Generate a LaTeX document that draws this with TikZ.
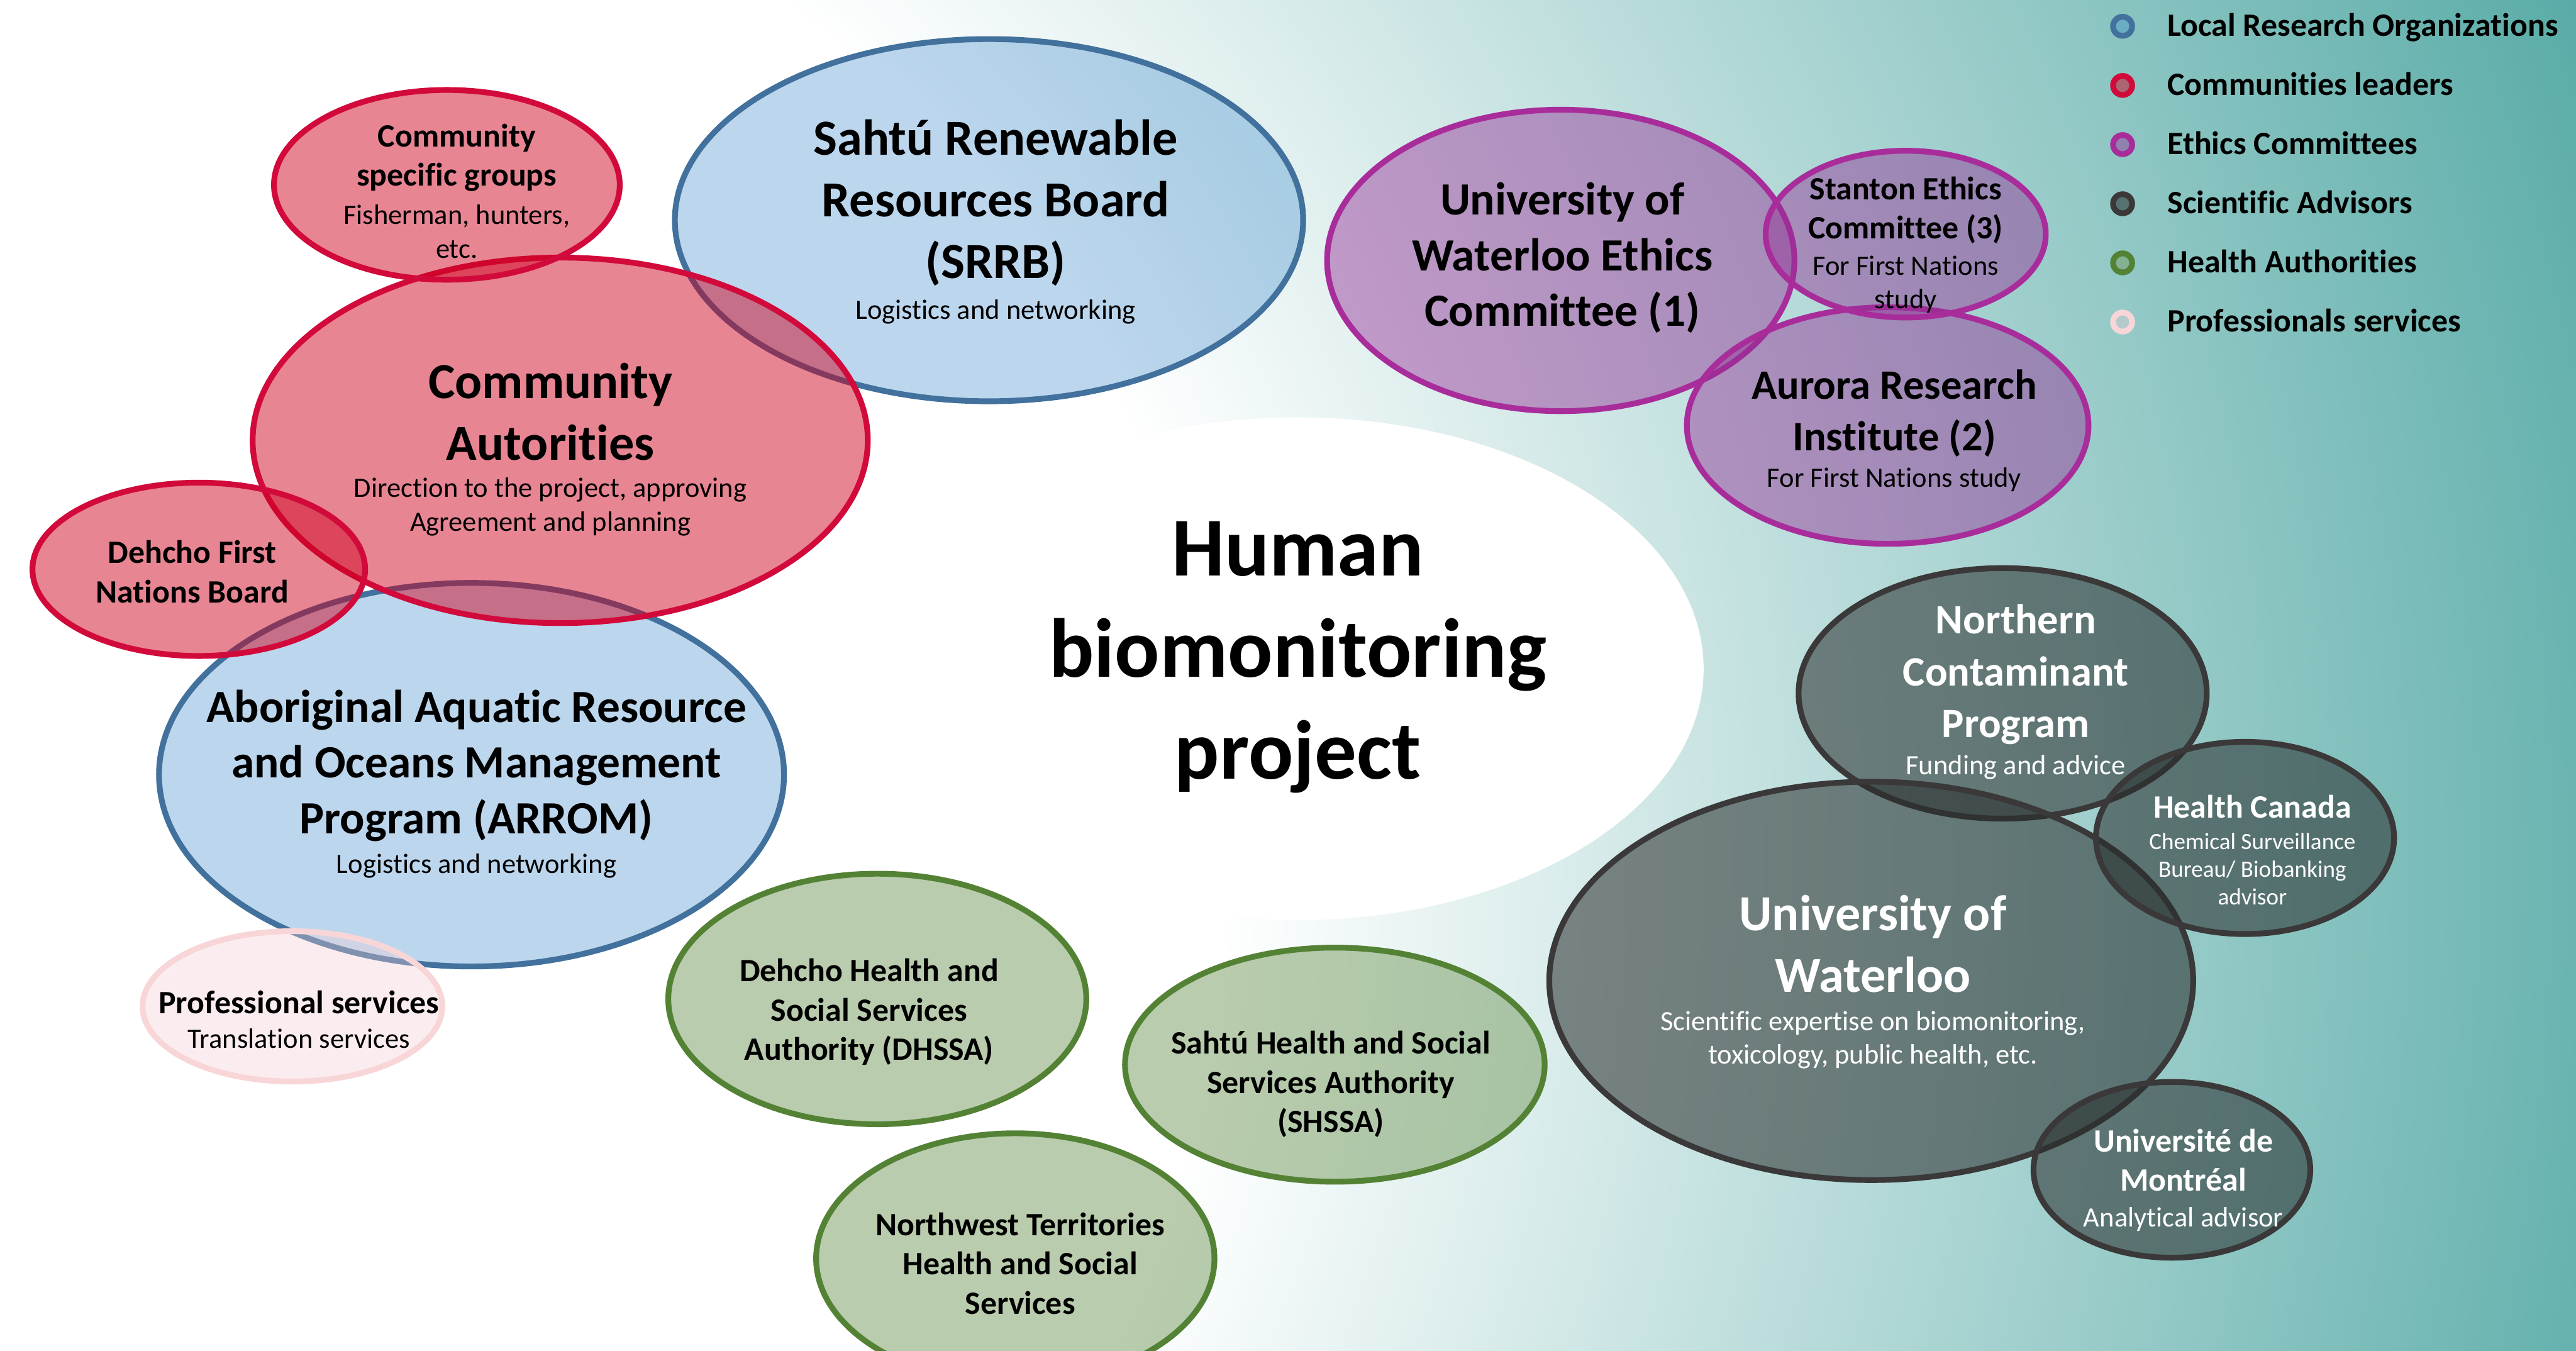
\documentclass[tikz,border=0pt]{standalone}
\usepackage{fontspec}
\setmainfont{Carlito}[Ligatures=NoCommon]
\usetikzlibrary{shapes.geometric}

\definecolor{bgteal}{RGB}{90,172,168}
\definecolor{lroFill}{RGB}{35,122,198}
\definecolor{lroLine}{RGB}{65,113,156}
\definecolor{commFill}{RGB}{207,0,30}
\definecolor{commLine}{RGB}{210,10,60}
\definecolor{ethFill}{RGB}{149,47,150}
\definecolor{ethLine}{RGB}{168,45,155}
\definecolor{sciFill}{RGB}{40,44,44}
\definecolor{sciLine}{RGB}{58,56,56}
\definecolor{hlthFill}{RGB}{117,155,93}
\definecolor{hlthLine}{RGB}{84,130,53}
\definecolor{proFill}{RGB}{246,206,212}
\definecolor{proLine}{RGB}{248,214,216}

% white on the left, teal towards the right edge
\pgfdeclareradialshading{backglow}{\pgfpoint{0bp}{0bp}}{%
	color(0bp)=(white); color(365bp)=(white); color(884bp)=(bgteal); color(970bp)=(bgteal)}

\begin{document}
\begin{tikzpicture}[x=0.02cm,y=-0.02cm]
		\tikzstyle{bubble}=[ellipse,line width=2pt,inner sep=0pt]
		\tikzstyle{lro}=[bubble,draw=lroLine,fill=lroFill,fill opacity=.3]
		\tikzstyle{comm}=[bubble,draw=commLine,fill=commFill,fill opacity=.48]
		\tikzstyle{ethic}=[bubble,draw=ethLine,fill=ethFill,fill opacity=.45]
		\tikzstyle{sci}=[bubble,draw=sciLine,fill=sciFill,fill opacity=.55]
		\tikzstyle{hlth}=[bubble,draw=hlthLine,fill=hlthFill,fill opacity=.5]
		\tikzstyle{pro}=[bubble,draw=proLine,fill=proFill,fill opacity=.35]
		\tikzstyle{txt}=[align=center,inner sep=0pt,yshift=-0.04cm]
		\tikzstyle{centre}=[txt,font=\bfseries\fontsize{29}{35.2}\selectfont]
		\tikzstyle{headL}=[txt,font=\bfseries\fontsize{17.5}{21.3}\selectfont]
		\tikzstyle{headM}=[txt,font=\bfseries\fontsize{16}{19.3}\selectfont]
		\tikzstyle{headS}=[txt,font=\bfseries\fontsize{14.5}{17.9}\selectfont]
		\tikzstyle{headT}=[txt,font=\bfseries\fontsize{11.3}{13.6}\selectfont]
		\tikzstyle{subtxt}=[txt,font=\fontsize{9.7}{11.6}\selectfont]
		\tikzstyle{subtiny}=[txt,font=\fontsize{8.1}{9.6}\selectfont]
		\tikzstyle{keytxt}=[inner sep=0pt,font=\bfseries\fontsize{11.3}{13.6}\selectfont]

		\useasboundingbox (0,0) rectangle (1568,822);
		\fill[white] (0,0) rectangle (1568,822);
		\begin{scope}
			\clip (0,0) rectangle (1568,822);
			\node[inner sep=0pt] (glow) at (100,527) {\pgfuseshading{backglow}};
		\end{scope}
		\node[ellipse,fill=white,minimum width=9.88cm,minimum height=6.12cm] (hub) at (790,407) {};

		% local research organizations and community leaders
		\node[lro,minimum width=7.65cm,minimum height=4.41cm] (srrb) at (602,134) {};
		\node[lro,minimum width=7.61cm,minimum height=4.67cm] (arrom) at (287,471.5) {};
		\node[comm,minimum width=7.49cm,minimum height=4.45cm] (ca) at (341,268) {};
		\node[comm,minimum width=4.21cm,minimum height=2.31cm] (csg) at (272,112.5) {};
		\node[comm,minimum width=4.05cm,minimum height=2.11cm] (dfn) at (121,346.5) {};
		\node[pro,minimum width=3.65cm,minimum height=1.83cm] (prof) at (178,612.5) {};

		% ethics committees
		\node[ethic,minimum width=5.69cm,minimum height=3.67cm] (uwec) at (950,158.5) {};
		\node[ethic,minimum width=4.89cm,minimum height=2.88cm] (ari) at (1149,259) {};
		\node[ethic,minimum width=3.41cm,minimum height=2.03cm] (sec) at (1160,142.5) {};

		% scientific advisors
		\node[sci,minimum width=4.97cm,minimum height=3.05cm] (ncp) at (1219,422) {};
		\node[sci,minimum width=7.84cm,minimum height=4.85cm] (uw) at (1139,597) {};
		\node[sci,minimum width=3.63cm,minimum height=2.34cm] (hc) at (1366.5,510) {};
		\node[sci,minimum width=3.37cm,minimum height=2.14cm] (udm) at (1322,712) {};

		% health authorities
		\node[hlth,minimum width=5.09cm,minimum height=3.05cm] (dhssa) at (534,608) {};
		\node[hlth,minimum width=5.11cm,minimum height=2.85cm] (shssa) at (812.5,648) {};
		\node[hlth,minimum width=4.85cm,minimum height=3.05cm] (nwt) at (618,766) {};

		% labels
		\node[centre] (hubtext) at (790,398) {Human\\biomonitoring\\project};
		\node[headL] (srrbT) at (606,121.5) {Sahtú Renewable\\Resources Board\\(SRRB)};
		\node[subtxt] (srrbS) at (606,188) {Logistics and networking};
		\node[headM] (arromT) at (290,464) {Aboriginal Aquatic Resource\\and Oceans Management\\Program (ARROM)};
		\node[subtxt] (arromS) at (290,525) {Logistics and networking};
		\node[headL] (caT) at (335,248.5) {Community\\Autorities};
		\node[subtxt] (caS) at (335,306.5) {Direction to the project, approving\\Agreement and planning};
		\node[headT] (csgT) at (278,94) {Community\\specific groups};
		\node[subtxt] (csgS) at (278,139) {Fisherman, hunters,\\etc.};
		\node[headT] (dfnT) at (117,346) {Dehcho First\\Nations Board};
		\node[headT] (profT) at (182,608) {Professional services};
		\node[subtxt] (profS) at (182,630) {Translation services};

		\node[headM] (uwecT) at (951,155) {University of\\Waterloo Ethics\\Committee (1)};
		\node[headT] (secT) at (1160,126) {Stanton Ethics\\Committee (3)};
		\node[subtxt] (secS) at (1160,171) {For First Nations\\study};
		\node[headS] (ariT) at (1153,249.5) {Aurora Research\\Institute (2)};
		\node[subtxt] (ariS) at (1153,290) {For First Nations study};

		\node[headS,text=white] (ncpT) at (1227,408.5) {Northern\\Contaminant\\Program};
		\node[subtxt,text=white] (ncpS) at (1227,465) {Funding and advice};
		\node[headT,text=white] (hcT) at (1371,489) {Health Canada};
		\node[subtiny,text=white] (hcS) at (1371,527) {Chemical Surveillance\\Bureau/ Biobanking\\advisor};
		\node[headL,text=white] (uwT) at (1140,572.5) {University of\\Waterloo};
		\node[subtxt,text=white] (uwS) at (1140,631) {Scientific expertise on biomonitoring,\\toxicology, public health, etc.};
		\node[headT,text=white] (udmT) at (1329,704) {Université de\\Montréal};
		\node[subtxt,text=white] (udmS) at (1329,740) {Analytical advisor};

		\node[headT] (dhssaT) at (529,614) {Dehcho Health and\\Social Services\\Authority (DHSSA)};
		\node[headT] (shssaT) at (810,658) {Sahtú Health and Social\\Services Authority\\(SHSSA)};
		\node[headT] (nwtT) at (621,767) {Northwest Territories\\Health and Social\\Services};

		% legend
		\foreach \y/\kind/\txt [count=\i] in {16/lro/Local Research Organizations,52/comm/Communities leaders,88/ethic/Ethics Committees,124/sci/Scientific Advisors,160/hlth/Health Authorities,196/pro/Professionals services}{
			\node[\kind,circle,minimum size=0.232cm] (key\i) at (1292,\y) {};
			\node[keytxt,anchor=base west] (keylabel\i) at (1319,\y+6) {\txt};
		};
	\end{tikzpicture}
\end{document}
